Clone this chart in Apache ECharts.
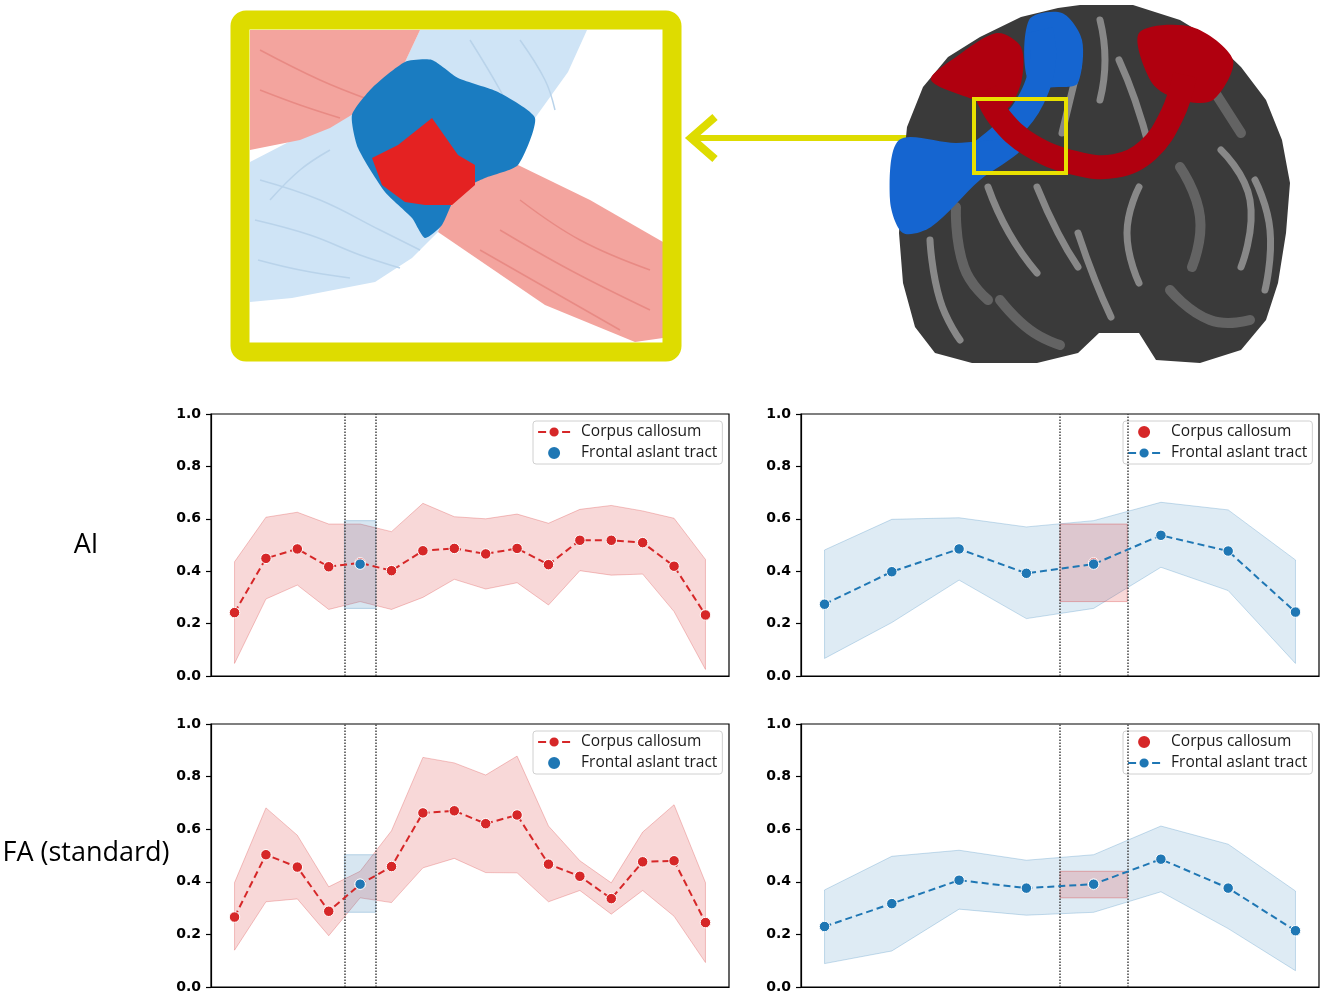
<!DOCTYPE html>
<html>
<head>
<meta charset="utf-8">
<title>AI / FA along corpus callosum and frontal aslant tract</title>
<script src="https://cdn.jsdelivr.net/npm/echarts@6/dist/echarts.min.js"></script>
<style>
  html, body { margin: 0; padding: 0; background: #fff; }
  #chart { width: 1325px; height: 997px; }
</style>
</head>
<body>
<div id="chart"></div>
<script>
// segment indices along each tract
var ccSegments = [0, 1, 2, 3, 4, 5, 6, 7, 8, 9, 10, 11, 12, 13, 14, 15];
var fatSegments = [0, 1, 2, 3, 4, 5, 6, 7];
// segment where the two tracts cross (CC segment 4 <-> FAT segment 4)
var ccCross = 4;
var fatCross = 4;

// AI
var aiCcMean  = [0.242, 0.449, 0.485, 0.417, 0.432, 0.402, 0.478, 0.487, 0.466, 0.487, 0.425, 0.518, 0.518, 0.509, 0.419, 0.233];
var aiCcUpper = [0.436, 0.606, 0.625, 0.580, 0.580, 0.551, 0.659, 0.608, 0.600, 0.618, 0.583, 0.636, 0.651, 0.630, 0.602, 0.445];
var aiCcLower = [0.048, 0.294, 0.347, 0.254, 0.284, 0.254, 0.300, 0.369, 0.332, 0.356, 0.271, 0.402, 0.385, 0.389, 0.246, 0.025];
var aiFatMean  = [0.274, 0.398, 0.485, 0.392, 0.427, 0.537, 0.477, 0.244];
var aiFatUpper = [0.481, 0.598, 0.604, 0.569, 0.593, 0.663, 0.634, 0.443];
var aiFatLower = [0.067, 0.204, 0.366, 0.219, 0.258, 0.415, 0.326, 0.048];

// FA (standard)
var faCcMean  = [0.266, 0.503, 0.456, 0.288, 0.390, 0.458, 0.662, 0.670, 0.621, 0.654, 0.467, 0.421, 0.336, 0.476, 0.480, 0.245];
var faCcUpper = [0.397, 0.681, 0.577, 0.381, 0.440, 0.594, 0.873, 0.852, 0.806, 0.878, 0.612, 0.480, 0.396, 0.589, 0.693, 0.397];
var faCcLower = [0.140, 0.324, 0.335, 0.195, 0.339, 0.321, 0.453, 0.489, 0.435, 0.434, 0.324, 0.367, 0.277, 0.367, 0.269, 0.093];
var faFatMean  = [0.230, 0.317, 0.406, 0.376, 0.391, 0.486, 0.376, 0.214];
var faFatUpper = [0.369, 0.497, 0.520, 0.482, 0.503, 0.612, 0.543, 0.365];
var faFatLower = [0.089, 0.137, 0.296, 0.273, 0.284, 0.362, 0.222, 0.062];

var yTicks = [0, 0.2, 0.4, 0.6, 0.8, 1.0];
var rowLabels = ['AI', 'FA (standard)'];
var tractLabels = { cc: 'Corpus callosum', fat: 'Frontal aslant tract' };

var RED = '#d62728', BLUE = '#1f77b4';
var redBand = 'rgba(214,39,40,0.18)', redEdge = 'rgba(214,39,40,0.26)';
var blueBand = 'rgba(31,119,180,0.15)', blueEdge = 'rgba(31,119,180,0.24)';

var myChart = echarts.init(document.getElementById('chart'));

var gridPos = [
  { left: 211, top: 414, width: 518, height: 262 },
  { left: 801, top: 414, width: 518, height: 262 },
  { left: 211, top: 724, width: 518, height: 263 },
  { left: 801, top: 724, width: 518, height: 263 }
];

function pairs(xs, ys) {
  return xs.map(function (x, i) { return [x, ys[i]]; });
}

// shaded band between lower and upper, one polygon through the axes' scales
function band(g, xs, lower, upper, fill, edge, z) {
  return {
    type: 'custom', xAxisIndex: g, yAxisIndex: g, z: z, silent: true, clip: true,
    data: xs.map(function (x, i) { return [x, lower[i], upper[i]]; }),
    encode: { x: 0, y: [1, 2] },
    renderItem: function (params, api) {
      if (params.dataIndex !== 0) return;
      var top = xs.map(function (x, i) { return api.coord([x, upper[i]]); });
      var bottom = xs.map(function (x, i) { return api.coord([x, lower[i]]); }).reverse();
      return { type: 'polygon', shape: { points: top.concat(bottom) },
        style: { fill: fill, stroke: edge, lineWidth: 1 } };
    }
  };
}

function meanLine(name, g, xs, mean, color, z, guideLo, guideHi) {
  return {
    name: name, type: 'line', xAxisIndex: g, yAxisIndex: g, z: z,
    data: pairs(xs, mean),
    lineStyle: { color: color, width: 2, type: [7, 4] },
    symbol: 'circle', symbolSize: 10.5,
    itemStyle: { color: color, borderColor: '#fff', borderWidth: 1 },
    markLine: {
      silent: true, symbol: ['none', 'none'], label: { show: false },
      lineStyle: { type: 'dotted', color: '#444', width: 1.5 },
      data: [{ xAxis: guideLo }, { xAxis: guideHi }]
    }
  };
}

function dot(name, g, x, v, color, z) {
  return {
    name: name, type: 'scatter', xAxisIndex: g, yAxisIndex: g, z: z,
    data: [[x, v]], symbol: 'circle', symbolSize: 10.5,
    itemStyle: { color: color, borderColor: '#fff', borderWidth: 1, opacity: 1 }
  };
}

// panel built around the corpus callosum (16 segments)
function ccPanel(g, tag, ccMean, ccLower, ccUpper, fatMean, fatLower, fatUpper) {
  var x0 = ccCross - 0.5, x1 = ccCross + 0.5;
  return [
    band(g, ccSegments, ccLower, ccUpper, redBand, redEdge, 2),
    band(g, [x0, x1], [fatLower[fatCross], fatLower[fatCross]], [fatUpper[fatCross], fatUpper[fatCross]],
      'rgba(31,119,180,0.18)', 'rgba(31,119,180,0.28)', 3),
    meanLine('cc#' + tag, g, ccSegments, ccMean, RED, 5, x0, x1),
    dot('fat#' + tag, g, ccCross, fatMean[fatCross], BLUE, 6)
  ];
}

// panel built around the frontal aslant tract (8 segments)
function fatPanel(g, tag, fatMean, fatLower, fatUpper, ccMean, ccLower, ccUpper) {
  var x0 = fatCross - 0.5, x1 = fatCross + 0.5;
  return [
    band(g, fatSegments, fatLower, fatUpper, blueBand, blueEdge, 2),
    band(g, [x0, x1], [ccLower[ccCross], ccLower[ccCross]], [ccUpper[ccCross], ccUpper[ccCross]],
      'rgba(214,39,40,0.18)', 'rgba(214,39,40,0.32)', 3),
    dot('cc#' + tag, g, fatCross, ccMean[ccCross], RED, 5),
    meanLine('fat#' + tag, g, fatSegments, fatMean, BLUE, 6, x0, x1)
  ];
}

var series = []
  .concat(ccPanel(0, 'aiL', aiCcMean, aiCcLower, aiCcUpper, aiFatMean, aiFatLower, aiFatUpper))
  .concat(fatPanel(1, 'aiR', aiFatMean, aiFatLower, aiFatUpper, aiCcMean, aiCcLower, aiCcUpper))
  .concat(ccPanel(2, 'faL', faCcMean, faCcLower, faCcUpper, faFatMean, faFatLower, faFatUpper))
  .concat(fatPanel(3, 'faR', faFatMean, faFatLower, faFatUpper, faCcMean, faCcLower, faCcUpper));

var xRanges = [
  [-0.75, ccSegments.length - 0.25],
  [-0.35, fatSegments.length - 0.65],
  [-0.75, ccSegments.length - 0.25],
  [-0.35, fatSegments.length - 0.65]
];

var grids = gridPos.map(function (p) {
  return { left: p.left, top: p.top, width: p.width, height: p.height,
    show: true, borderColor: '#000', borderWidth: 1.2, backgroundColor: 'transparent' };
});

var xAxes = xRanges.map(function (r, i) {
  return { type: 'value', gridIndex: i, min: r[0], max: r[1],
    axisLine: { show: true, onZero: false, lineStyle: { color: '#000', width: 1.2 } },
    axisTick: { show: false }, axisLabel: { show: false }, splitLine: { show: false } };
});

var yAxes = gridPos.map(function (p, i) {
  return { type: 'value', gridIndex: i, min: yTicks[0], max: yTicks[yTicks.length - 1], interval: 0.2,
    axisLine: { show: true, onZero: false, lineStyle: { color: '#000', width: 1.2 } },
    axisTick: { show: true, length: 5, lineStyle: { color: '#000', width: 1.2 } },
    axisLabel: { margin: 10, color: '#000', fontFamily: 'DejaVu Sans', fontWeight: 'bold', fontSize: 14,
      formatter: function (v) { return v.toFixed(1); } },
    splitLine: { show: false } };
});

function legendFor(tag, left, top) {
  return {
    orient: 'vertical', left: left, top: top,
    data: ['cc#' + tag, 'fat#' + tag],
    formatter: function (name) { return tractLabels[name.split('#')[0]]; },
    selectedMode: false,
    itemWidth: 32, itemHeight: 14, itemGap: 5,
    padding: [3, 5, 3, 4],
    borderColor: '#d0d0d0', borderWidth: 1, borderRadius: 3, backgroundColor: '#fff',
    lineStyle: { type: [8, 4], width: 2.2 },
    textStyle: { fontFamily: 'Open Sans', fontSize: 15.5, color: '#1a1a1a', padding: [0, 0, 0, 6] }
  };
}

var legends = [
  legendFor('aiL', 533, 421),
  legendFor('aiR', 1123, 421),
  legendFor('faL', 533, 731),
  legendFor('faR', 1123, 731)
];

// illustration: zoomed crossing and coronal slice with both tracts
var Y = '#dedc00';
var illustration = [
  // zoomed crossing
  { type: 'polygon', silent: true, shape: { points: [[420,30],[587,30],[568,72],[535,118],[518,165],[478,178],[438,232],[412,258],[375,282],[292,298],[250,302],[250,162],[308,132],[368,105],[405,62]] },
    style: { fill: '#cfe4f6' } },
  { type: 'polygon', silent: true, shape: { points: [[250,30],[420,30],[405,62],[368,105],[330,128],[300,140],[250,150]] },
    style: { fill: '#f3a49e' } },
  { type: 'polygon', silent: true, shape: { points: [[470,175],[518,165],[590,200],[663,242],[663,338],[635,342],[545,305],[438,232],[452,200]] },
    style: { fill: '#f3a49e' } }
];

// fibre strands for texture in the zoomed view
var strands = [
  { c: '#b9d3ea', p: [[260,180],[320,200],[380,230],[420,250]] },
  { c: '#b9d3ea', p: [[255,220],[310,235],[360,255],[400,268]] },
  { c: '#b9d3ea', p: [[258,260],[300,270],[350,278]] },
  { c: '#b9d3ea', p: [[270,200],[300,170],[330,150]] },
  { c: '#b9d3ea', p: [[470,40],[500,90],[520,130]] },
  { c: '#b9d3ea', p: [[520,40],[545,80],[555,110]] },
  { c: '#e88a84', p: [[260,50],[320,80],[370,100]] },
  { c: '#e88a84', p: [[260,90],[300,105],[340,118]] },
  { c: '#e88a84', p: [[520,200],[580,240],[650,270]] },
  { c: '#e88a84', p: [[500,230],[570,270],[650,310]] },
  { c: '#e88a84', p: [[480,250],[550,290],[620,330]] }
];
strands.forEach(function (s) {
  illustration.push({ type: 'polyline', silent: true, shape: { points: s.p, smooth: 0.4 },
    style: { stroke: s.c, lineWidth: 1.5, fill: 'none' } });
});

illustration = illustration.concat([
  { type: 'polygon', silent: true, shape: { points: [[372,88],[405,62],[432,60],[458,78],[498,92],[535,118],[518,165],[485,178],[458,192],[442,225],[425,238],[412,218],[385,192],[358,148],[352,115]], smooth: 0.2 },
    style: { fill: '#1a7cc1' } },
  { type: 'polygon', silent: true, shape: { points: [[372,158],[398,145],[432,118],[458,155],[475,165],[475,185],[452,205],[425,205],[405,202],[382,185]] },
    style: { fill: '#e42222' } },
  { type: 'rect', silent: true, shape: { x: 240, y: 20, width: 432, height: 332, r: 6 },
    style: { fill: 'none', stroke: Y, lineWidth: 19 } },
  // arrow
  { type: 'line', silent: true, shape: { x1: 690, y1: 138, x2: 974, y2: 138 }, style: { stroke: Y, lineWidth: 6 } },
  { type: 'polyline', silent: true, shape: { points: [[715,117],[691,138],[715,159]] },
    style: { stroke: Y, lineWidth: 8, fill: 'none', lineJoin: 'miter' } },
  // coronal slice
  { type: 'polygon', silent: true, shape: { points: [[1080,5],[1133,5],[1180,20],[1213,40],[1241,67],[1266,100],[1282,140],[1290,183],[1286,233],[1278,283],[1266,320],[1241,350],[1200,363],[1156,360],[1139,333],[1099,333],[1078,353],[1037,363],[972,363],[935,353],[915,327],[903,283],[899,233],[903,167],[907,127],[923,87],[948,57],[980,37],[1021,17],[1058,8]] },
    style: { fill: '#3a3a3a' } }
]);

var streaks = [
  [[1119,60],[1135,100],[1150,150]],
  [[988,187],[1009,233],[1037,273]],
  [[956,207],[964,267],[988,300]],
  [[1037,187],[1058,233],[1078,267]],
  [[1139,187],[1127,233],[1139,283]],
  [[1180,167],[1200,217],[1192,267]],
  [[1221,150],[1250,200],[1241,267]],
  [[1078,233],[1095,280],[1111,317]],
  [[1209,83],[1241,133]],
  [[1078,67],[1062,133]],
  [[930,240],[940,300],[960,340]],
  [[1170,290],[1210,320],[1250,320]],
  [[1100,20],[1105,60],[1100,100]],
  [[1255,180],[1270,230],[1265,290]],
  [[1000,300],[1030,330],[1060,345]]
];
streaks.forEach(function (p, i) {
  illustration.push({ type: 'polyline', silent: true, shape: { points: p, smooth: 0.5 },
    style: { stroke: i % 3 === 2 ? '#6e6e6e' : '#9c9c9c', lineWidth: i % 3 === 2 ? 10 : 7, opacity: 0.8, fill: 'none', lineCap: 'round' } });
});

illustration = illustration.concat([
  // frontal aslant tract
  { type: 'polygon', silent: true, shape: { points: [[1029,20],[1062,13],[1082,40],[1078,83],[1062,87],[1029,83]], smooth: 0.3 },
    style: { fill: '#1565d0' } },
  { type: 'polyline', silent: true, shape: { points: [[1040,30],[1043,60],[1032,98],[1010,128],[985,150],[950,175],[925,200],[910,222]], smooth: 0.4 },
    style: { stroke: '#1565d0', lineWidth: 26, fill: 'none' } },
  { type: 'polygon', silent: true, shape: { points: [[899,140],[890,200],[903,233],[931,227],[980,180],[1021,150],[1013,140],[956,143]], smooth: 0.3 },
    style: { fill: '#1565d0' } },
  // corpus callosum
  { type: 'polygon', silent: true, shape: { points: [[931,80],[956,57],[997,33],[1021,47],[1021,83],[1005,110],[975,100]], smooth: 0.3 },
    style: { fill: '#b0000f' } },
  { type: 'polygon', silent: true, shape: { points: [[1139,33],[1192,27],[1233,60],[1213,100],[1180,100],[1152,83]], smooth: 0.3 },
    style: { fill: '#b0000f' } },
  { type: 'polyline', silent: true, shape: { points: [[985,90],[1000,118],[1030,145],[1075,163],[1115,166],[1148,150],[1172,115],[1185,75]], smooth: 0.4 },
    style: { stroke: '#b0000f', lineWidth: 24, fill: 'none' } },
  { type: 'rect', silent: true, shape: { x: 974, y: 99, width: 92, height: 74 },
    style: { fill: 'none', stroke: '#e8e000', lineWidth: 4 } }
]);

// row labels
rowLabels.forEach(function (t, i) {
  illustration.push({ type: 'text', silent: true, x: 86, y: i === 0 ? 545 : 853,
    style: { text: t, font: '27px "Open Sans"', fill: '#000', align: 'center', verticalAlign: 'middle' } });
});

option = {
  animation: false,
  backgroundColor: '#fff',
  grid: grids,
  xAxis: xAxes,
  yAxis: yAxes,
  legend: legends,
  graphic: illustration,
  series: series
};
myChart.setOption(option);
</script>
</body>
</html>
